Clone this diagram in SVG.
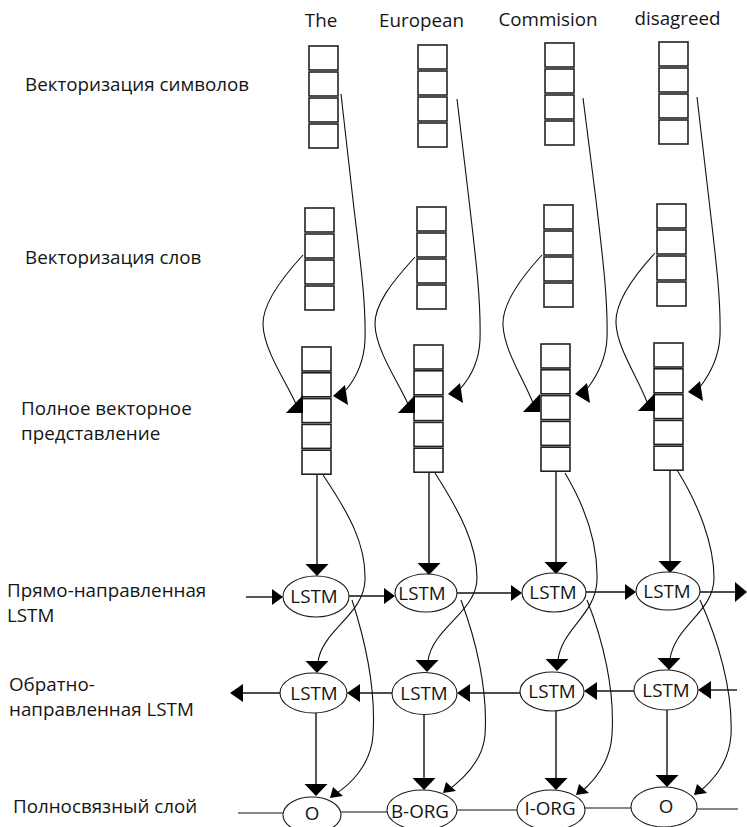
<svg xmlns="http://www.w3.org/2000/svg" xmlns:xlink="http://www.w3.org/1999/xlink" width="747" height="827" viewBox="0 0 747 827">
  <style>
    text { font-family: "Open Sans", "Liberation Sans", sans-serif; font-size: 18.8px; fill: #151515; }
    .mid { text-anchor: middle; }
    .cell { fill: #fff; stroke: #222; stroke-width: 1.6; }
    .node { fill: #fff; stroke: #1a1a1a; stroke-width: 1.1; }
    .edge { fill: none; stroke: #111; stroke-width: 1.4; }
    .curve { fill: none; stroke: #111; stroke-width: 1.1; }
    .head { fill: #000; }
  </style>
  <defs>
    <!-- stacked vector cells -->
    <g id="stack4">
      <rect class="cell" x="0" y="0" width="29" height="24"/>
      <rect class="cell" x="0" y="26" width="29" height="24"/>
      <rect class="cell" x="0" y="52" width="29" height="24"/>
      <rect class="cell" x="0" y="78" width="29" height="24"/>
    </g>
    <g id="stack5">
      <rect class="cell" x="0" y="0" width="29" height="24"/>
      <rect class="cell" x="0" y="25.8" width="29" height="24"/>
      <rect class="cell" x="0" y="51.6" width="29" height="24"/>
      <rect class="cell" x="0" y="77.4" width="29" height="24"/>
      <rect class="cell" x="0" y="103.2" width="29" height="24"/>
    </g>
    <!-- arrowheads, tip at the origin -->
    <polygon id="ah-down" class="head" points="0,0 -11.5,-12 11.5,-12"/>
    <polygon id="ah-right" class="head" points="0,0 -11,-8 -11,8"/>
    <polygon id="ah-right-big" class="head" points="0,0 -12,-10 -12,10"/>
    <polygon id="ah-left" class="head" points="0,0 13,-9 13,9"/>
    <polygon id="ah-in-left" class="head" points="0,0 12,-11 15,9"/>
    <polygon id="ah-in-up" class="head" points="0,0 -17,18 0,18"/>
    <polygon id="ah-dl" class="head" points="0,0 3,-11 13,-2"/>
  </defs>

  <rect width="747" height="827" fill="#fff"/>

  <!-- row captions -->
  <g id="captions">
    <text x="25" y="91">Векторизация символов</text>
    <text x="25" y="264">Векторизация слов</text>
    <text x="21" y="415">Полное векторное</text>
    <text x="21" y="440">представление</text>
    <text x="7" y="597">Прямо-направленная</text>
    <text x="7" y="622">LSTM</text>
    <text x="9" y="691">Обратно-</text>
    <text x="9" y="716">направленная LSTM</text>
    <text x="13" y="813">Полносвязный слой</text>
  </g>

  <!-- input words -->
  <g id="words">
    <text class="mid" x="321" y="27">The</text>
    <text class="mid" x="421.5" y="27">European</text>
    <text class="mid" x="548" y="26">Commision</text>
    <text class="mid" x="677.5" y="25">disagreed</text>
  </g>

  <!-- character embeddings -->
  <g id="char-1"><use xlink:href="#stack4" x="309" y="46"/></g>
  <g id="char-2"><use xlink:href="#stack4" x="418" y="45"/></g>
  <g id="char-3"><use xlink:href="#stack4" x="545" y="43"/></g>
  <g id="char-4"><use xlink:href="#stack4" x="659" y="42"/></g>

  <!-- word embeddings -->
  <g id="word-1"><use xlink:href="#stack4" x="305" y="208"/></g>
  <g id="word-2"><use xlink:href="#stack4" x="417" y="207"/></g>
  <g id="word-3"><use xlink:href="#stack4" x="544" y="205"/></g>
  <g id="word-4"><use xlink:href="#stack4" x="657" y="204"/></g>

  <!-- full representation -->
  <g id="full-1"><use xlink:href="#stack5" x="302" y="347"/></g>
  <g id="full-2"><use xlink:href="#stack5" x="414" y="345"/></g>
  <g id="full-3"><use xlink:href="#stack5" x="541" y="344"/></g>
  <g id="full-4"><use xlink:href="#stack5" x="654" y="343"/></g>

  <!-- connectors -->
  <g id="connectors">
    <!-- char vectors to full representation -->
    <path class="curve" d="M341,94 L353,200 C360,260 366,300 365,340 C364,362 356,378 346,390"/>
    <path class="curve" d="M457,99 L469,200 C476,260 481,300 480,340 C479,362 470,378 460,389"/>
    <path class="curve" d="M583,98 L596,200 C603,260 608,300 607,338 C606,360 597,376 587,389"/>
    <path class="curve" d="M697,97 L709,200 C716,260 721,300 720,336 C719,358 710,374 700,387"/>
    <use xlink:href="#ah-in-left" x="333" y="396"/>
    <use xlink:href="#ah-in-left" x="448" y="394"/>
    <use xlink:href="#ah-in-left" x="575" y="394"/>
    <use xlink:href="#ah-in-left" x="688" y="392"/>

    <!-- word vectors to full representation -->
    <path class="curve" d="M303,255 C280,280 262,305 263,325 C264,350 285,380 296,404"/>
    <path class="curve" d="M415,257 C392,282 374,305 375,325 C376,350 397,380 408,404"/>
    <path class="curve" d="M542,255 C519,280 502,305 503,325 C504,350 523,378 533,403"/>
    <path class="curve" d="M655,253 C632,278 615,303 616,323 C617,348 637,376 647,402"/>
    <use xlink:href="#ah-in-up" x="303" y="395"/>
    <use xlink:href="#ah-in-up" x="415" y="395"/>
    <use xlink:href="#ah-in-up" x="540" y="394"/>
    <use xlink:href="#ah-in-up" x="655" y="393"/>

    <!-- full representation to forward LSTM -->
    <line class="edge" x1="317" y1="475" x2="317" y2="565"/>
    <line class="edge" x1="429" y1="473" x2="429" y2="564"/>
    <line class="edge" x1="556" y1="472" x2="556" y2="563"/>
    <line class="edge" x1="670" y1="470" x2="670" y2="562"/>
    <use xlink:href="#ah-down" x="317" y="576"/>
    <use xlink:href="#ah-down" x="429" y="575"/>
    <use xlink:href="#ah-down" x="556" y="574"/>
    <use xlink:href="#ah-down" x="670" y="573"/>

    <!-- full representation to backward LSTM -->
    <path class="curve" d="M323,475 C350,515 366,545 365,580 C364,615 322,630 318,662"/>
    <path class="curve" d="M435,473 C460,512 477,545 477,578 C477,612 432,628 428,661"/>
    <path class="curve" d="M565,473 C587,510 598,545 597,580 C596,615 562,628 558,660"/>
    <path class="curve" d="M677,470 C699,505 714,545 714,578 C714,612 675,625 670,659"/>
    <use xlink:href="#ah-down" x="317" y="673"/>
    <use xlink:href="#ah-down" x="427" y="672"/>
    <use xlink:href="#ah-down" x="557" y="671"/>
    <use xlink:href="#ah-down" x="669" y="670"/>

    <!-- forward chain -->
    <line class="edge" x1="246" y1="597" x2="275" y2="597"/>
    <use xlink:href="#ah-right" x="283" y="597"/>
    <line class="edge" x1="349" y1="596" x2="387" y2="596"/>
    <use xlink:href="#ah-right" x="395" y="596"/>
    <line class="edge" x1="457" y1="593" x2="514" y2="593"/>
    <use xlink:href="#ah-right" x="522" y="593"/>
    <line class="edge" x1="586" y1="592" x2="628" y2="592"/>
    <use xlink:href="#ah-right" x="636" y="592"/>
    <line class="edge" x1="700" y1="592" x2="738" y2="592"/>
    <use xlink:href="#ah-right-big" x="747" y="592"/>

    <!-- backward chain -->
    <line class="edge" x1="737" y1="690" x2="706" y2="690"/>
    <use xlink:href="#ah-left" x="698" y="690"/>
    <line class="edge" x1="634" y1="691" x2="592" y2="691"/>
    <use xlink:href="#ah-left" x="584" y="691"/>
    <line class="edge" x1="520" y1="693" x2="465" y2="693"/>
    <use xlink:href="#ah-left" x="457" y="693"/>
    <line class="edge" x1="392" y1="693" x2="355" y2="693"/>
    <use xlink:href="#ah-left" x="347" y="693"/>
    <line class="edge" x1="280" y1="693" x2="238" y2="693"/>
    <use xlink:href="#ah-left" x="230" y="693"/>

    <!-- backward LSTM to output -->
    <line class="edge" x1="316" y1="713" x2="316" y2="786"/>
    <line class="edge" x1="424" y1="715" x2="424" y2="780"/>
    <line class="edge" x1="556" y1="711" x2="556" y2="780"/>
    <line class="edge" x1="667" y1="710" x2="667" y2="777"/>
    <use xlink:href="#ah-down" x="316" y="796"/>
    <use xlink:href="#ah-down" x="424" y="790"/>
    <use xlink:href="#ah-down" x="556" y="790"/>
    <use xlink:href="#ah-down" x="667" y="787"/>

    <!-- forward LSTM to output -->
    <path class="curve" d="M352,600 C365,640 376,690 373,735 C371,765 350,785 334,795"/>
    <path class="curve" d="M461,600 C476,640 488,690 485,735 C483,762 462,780 447,791"/>
    <path class="curve" d="M587,600 C603,640 615,690 612,735 C610,765 592,783 580,793"/>
    <path class="curve" d="M700,600 C718,640 733,690 731,735 C729,765 710,783 698,793"/>
    <use xlink:href="#ah-dl" x="330" y="798"/>
    <use xlink:href="#ah-dl" x="443" y="793"/>
    <use xlink:href="#ah-dl" x="576" y="795"/>
    <use xlink:href="#ah-dl" x="694" y="795"/>

    <!-- output row links -->
    <line class="curve" x1="238" y1="813" x2="283" y2="813"/>
    <line class="curve" x1="341" y1="812" x2="388" y2="812"/>
    <line class="curve" x1="457" y1="810" x2="517" y2="810"/>
    <line class="curve" x1="585" y1="808" x2="631" y2="808"/>
    <line class="curve" x1="697" y1="809" x2="738" y2="809"/>
  </g>

  <!-- forward LSTM cells -->
  <g id="fwd-1"><ellipse class="node" cx="316" cy="596.5" rx="33" ry="20.5"/><text class="mid" x="314" y="603">LSTM</text></g>
  <g id="fwd-2"><ellipse class="node" cx="426" cy="593" rx="31" ry="19"/><text class="mid" x="422" y="599.5">LSTM</text></g>
  <g id="fwd-3"><ellipse class="node" cx="554" cy="592.5" rx="32" ry="19.5"/><text class="mid" x="553" y="599">LSTM</text></g>
  <g id="fwd-4"><ellipse class="node" cx="668" cy="591" rx="32" ry="19"/><text class="mid" x="667" y="597.5">LSTM</text></g>

  <!-- backward LSTM cells -->
  <g id="bwd-1"><ellipse class="node" cx="313.5" cy="693" rx="33.5" ry="20"/><text class="mid" x="314" y="699.5">LSTM</text></g>
  <g id="bwd-2"><ellipse class="node" cx="424.5" cy="693.5" rx="32.5" ry="21"/><text class="mid" x="424" y="700">LSTM</text></g>
  <g id="bwd-3"><ellipse class="node" cx="552" cy="691.5" rx="32" ry="19.5"/><text class="mid" x="552" y="698">LSTM</text></g>
  <g id="bwd-4"><ellipse class="node" cx="666" cy="690" rx="32" ry="20"/><text class="mid" x="666" y="696.5">LSTM</text></g>

  <!-- output tags -->
  <g id="out-1"><ellipse class="node" cx="312" cy="815" rx="29" ry="18"/><text class="mid" x="312" y="820">O</text></g>
  <g id="out-2"><ellipse class="node" cx="422" cy="810" rx="35" ry="20"/><text class="mid" x="420" y="818">B-ORG</text></g>
  <g id="out-3"><ellipse class="node" cx="551" cy="810" rx="34" ry="20"/><text class="mid" x="550" y="815">I-ORG</text></g>
  <g id="out-4"><ellipse class="node" cx="664" cy="807" rx="33" ry="20"/><text class="mid" x="666" y="813">O</text></g>
</svg>
